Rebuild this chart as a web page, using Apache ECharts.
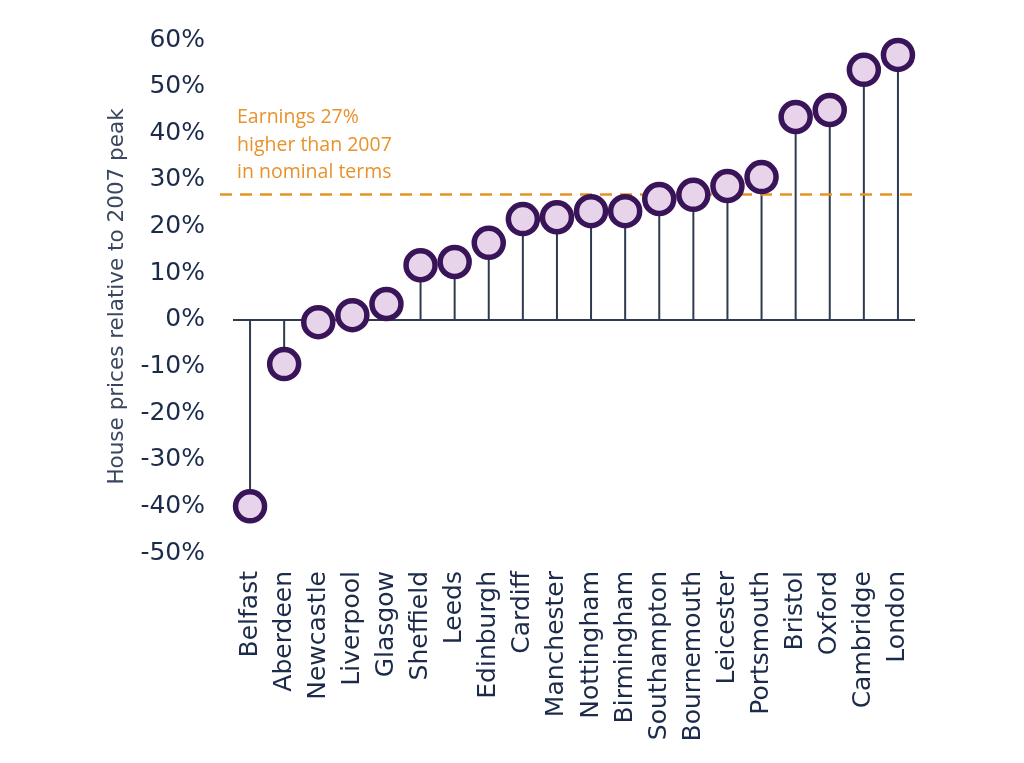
<!DOCTYPE html>
<html><head><meta charset="utf-8">
<script src="https://cdn.jsdelivr.net/npm/echarts@6/dist/echarts.min.js"></script>
<style>html,body{margin:0;padding:0;background:#fff}#c{width:1024px;height:763px}</style>
</head><body><div id="c"></div>
<script>
const cities = ['Belfast','Aberdeen','Newcastle','Liverpool','Glasgow','Sheffield','Leeds','Edinburgh','Cardiff','Manchester','Nottingham','Birmingham','Southampton','Bournemouth','Leicester','Portsmouth','Bristol','Oxford','Cambridge','London'];
const values = [-40, -9.5, -0.5, 1, 3.4, 11.7, 12.4, 16.5, 21.6, 22, 23.3, 23.3, 25.9, 26.8, 28.7, 30.6, 43.5, 45, 53.6, 56.8];
const earnings = 27;
const yTicks = {min: -50, max: 60, interval: 10};
const note = 'Earnings 27%\nhigher than 2007\nin nominal terms';

const navy = '#1c2b4a';
const stem = '#2e3b4e';
const orange = '#e8922a';
const chart = echarts.init(document.getElementById('c'));
chart.setOption({
  animation: false,
  grid: {left: 233, right: 109, top: 40, bottom: 210},
  xAxis: {
    type: 'category', data: cities,
    axisLine: {show: false, onZero: false}, axisTick: {show: false},
    axisLabel: {rotate: 90, fontSize: 25, color: navy, fontFamily: 'DejaVu Sans', margin: 18, interval: 0}
  },
  yAxis: {
    type: 'value', min: yTicks.min, max: yTicks.max, interval: yTicks.interval,
    splitLine: {show: false}, axisLine: {show: false}, axisTick: {show: false},
    axisLabel: {formatter: '{value}%', fontSize: 25, color: navy, fontFamily: 'DejaVu Sans', margin: 28},
    name: 'House prices relative to 2007 peak', nameLocation: 'middle', nameGap: 105,
    nameTextStyle: {fontSize: 21.5, color: '#3a4660', fontFamily: 'DejaVu Sans'}
  },
  graphic: [{type: 'text', left: 237, top: 104, style: {text: note, fill: orange, fontSize: 19.5, fontFamily: 'Open Sans', lineHeight: 27.5}}],
  series: [
    {
      type: 'bar', data: values, barWidth: 2, itemStyle: {color: stem}, silent: true,
      markLine: {
        symbol: 'none', silent: true, label: {show: false},
        data: [
          [{x: 233, yAxis: 0, lineStyle: {color: stem, width: 2, type: 'solid'}}, {x: 915, yAxis: 0}],
          [{x: 220, yAxis: earnings, lineStyle: {color: orange, width: 2.5, type: [12, 8]}}, {x: 915, yAxis: earnings}]
        ]
      }
    },
    {
      type: 'scatter', data: values, symbol: 'circle', symbolSize: 29, z: 5,
      itemStyle: {color: '#e7d4eb', borderColor: '#3a1458', borderWidth: 5.5, opacity: 1}
    }
  ]
});
</script></body></html>
